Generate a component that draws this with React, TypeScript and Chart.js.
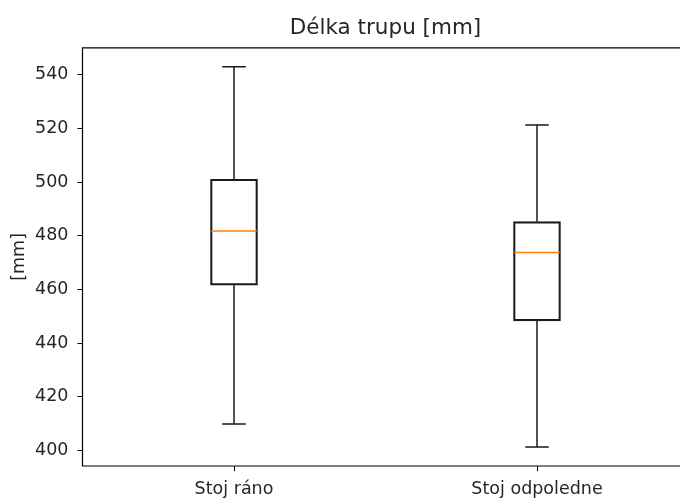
import React, { useEffect, useRef } from 'react';
import { Chart, registerables } from 'chart.js';

Chart.register(...registerables);

// ---- data ----
const categories = ['Stoj ráno', 'Stoj odpoledne'];
const whiskerLow = [409.9, 401.3];
const q1 = [461.6, 448.3];
const median = [481.8, 473.8];
const q3 = [501.1, 485.3];
const whiskerHigh = [543.0, 521.3];
const yMin = 394.2;
const yMax = 550.1;
const yStep = 20;

const FONT = "'DejaVu Sans', sans-serif";
const TEXT = '#262626';
const LINE = '#1a1a1a';

const boxExtras = {
  id: 'boxExtras',
  afterDatasetsDraw(chart: any) {
    const { ctx, chartArea, scales } = chart;
    const x = scales.x;
    const y = scales.y;
    const meta = chart.getDatasetMeta(0);
    ctx.save();
    meta.data.forEach((bar: any, i: number) => {
      const cx = x.getPixelForValue(i);
      const half = bar.width / 2;
      const cap = half / 2;
      ctx.strokeStyle = LINE;
      ctx.lineWidth = 1.5;
      ctx.beginPath();
      const yq3 = y.getPixelForValue(q3[i]);
      const yq1 = y.getPixelForValue(q1[i]);
      const yhi = y.getPixelForValue(whiskerHigh[i]);
      const ylo = y.getPixelForValue(whiskerLow[i]);
      ctx.moveTo(cx, yq3);
      ctx.lineTo(cx, yhi);
      ctx.moveTo(cx, yq1);
      ctx.lineTo(cx, ylo);
      ctx.moveTo(cx - cap, yhi);
      ctx.lineTo(cx + cap, yhi);
      ctx.moveTo(cx - cap, ylo);
      ctx.lineTo(cx + cap, ylo);
      ctx.stroke();
      const ym = y.getPixelForValue(median[i]);
      ctx.strokeStyle = '#ff7f0e';
      ctx.lineWidth = 1.6;
      ctx.beginPath();
      ctx.moveTo(cx - half + 0.8, ym);
      ctx.lineTo(cx + half - 0.8, ym);
      ctx.stroke();
    });
    // frame: left, top, bottom (right spine lies outside the visible page)
    ctx.strokeStyle = '#000';
    ctx.lineWidth = 1.2;
    ctx.beginPath();
    ctx.moveTo(chartArea.right + 2, chartArea.top);
    ctx.lineTo(chartArea.left, chartArea.top);
    ctx.lineTo(chartArea.left, chartArea.bottom);
    ctx.lineTo(chartArea.right + 2, chartArea.bottom);
    ctx.stroke();
    ctx.restore();
  },
};

export default function App() {
  const ref = useRef<HTMLCanvasElement | null>(null);
  useEffect(() => {
    if (!ref.current) return;
    const chart = new Chart(ref.current, {
      type: 'bar',
      data: {
        labels: categories,
        datasets: [
          {
            data: q1.map((v, i) => [v, q3[i]]) as any,
            backgroundColor: 'rgba(0,0,0,0)',
            borderColor: LINE,
            borderWidth: 1.5,
            borderSkipped: false,
            barThickness: 47,
          },
        ],
      },
      options: {
        animation: false,
        responsive: false,
        layout: { padding: { left: 0, right: 11.5, top: 0, bottom: 0 } },
        plugins: {
          legend: { display: false },
          tooltip: { enabled: false },
          title: {
            display: true,
            text: 'Délka trupu [mm]',
            color: TEXT,
            fullSize: false,
            font: { family: FONT, size: 21.5, weight: 'normal' },
            padding: { top: 16, bottom: 6 },
          },
        },
        scales: {
          x: {
            type: 'category',
            offset: true,
            grid: { display: true, drawOnChartArea: false, drawTicks: true, tickLength: 5, tickColor: '#000', offset: false },
            border: { display: false },
            ticks: { color: TEXT, padding: 8, font: { family: FONT, size: 17.5 } },
            afterFit: (s: any) => { s.height = 34; },
          },
          y: {
            min: yMin,
            max: yMax,
            grid: { display: true, drawOnChartArea: false, drawTicks: true, tickLength: 5, tickColor: '#000' },
            border: { display: false },
            ticks: { stepSize: yStep, includeBounds: false, color: TEXT, padding: 9, font: { family: FONT, size: 17.5 } },
            title: { display: true, text: '[mm]', color: TEXT, font: { family: FONT, size: 17.5 }, padding: { top: 9, bottom: 0 } },
            afterFit: (s: any) => { s.width = 82.5; },
          },
        },
      },
      plugins: [boxExtras],
    });
    return () => chart.destroy();
  }, []);
  return (
    <div style={{ position: 'fixed', left: 0, top: 0, width: 700, height: 500 }}>
      <canvas ref={ref} width={700} height={500} style={{ display: 'block' }} />
    </div>
  );
}
